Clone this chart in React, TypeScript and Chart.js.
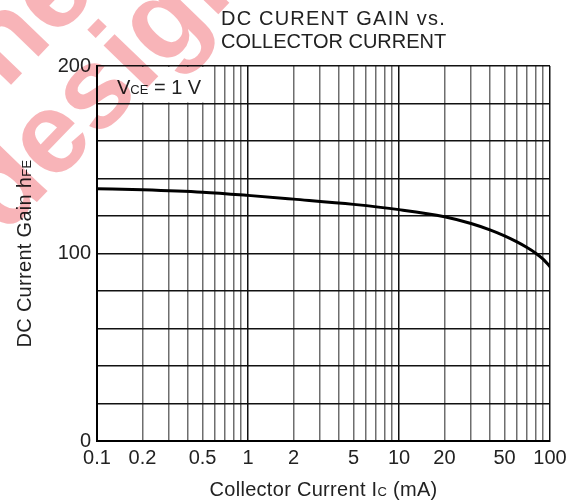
import { useEffect, useRef } from "react";
import { Chart, registerables } from "chart.js";

Chart.register(...registerables);

// ---- data ----
const CURRENT_MA = [0.1, 0.2, 0.5, 1, 2, 5, 10, 20, 30, 40, 50, 60, 70, 80, 90, 100];
const GAIN_HFE = [134.6, 134.0, 132.7, 131.0, 129.0, 126.2, 123.4, 119.6, 116.0, 112.6, 109.4, 106.3, 103.3, 100.3, 97.0, 93.0];
const X_GRID = [
  0.1, 0.2, 0.3, 0.4, 0.5, 0.6, 0.7, 0.8, 0.9,
  1, 2, 3, 4, 5, 6, 7, 8, 9,
  10, 20, 30, 40, 50, 60, 70, 80, 90, 100,
];
const X_MAJOR = [0.1, 1, 10, 100];
const X_LABELS = [0.1, 0.2, 0.5, 1, 2, 5, 10, 20, 50, 100];
const Y_LABELS = [0, 100, 200];
const TITLE_LINES = ["DC CURENT GAIN vs.", "COLLECTOR CURRENT"];

const FONT = '"Liberation Sans", Arial, sans-serif';
const TEXT = "#222";

type Part = [string, number];

function partsWidth(ctx: CanvasRenderingContext2D, parts: Part[], spacing: number) {
  let w = 0;
  for (const [t, s] of parts) {
    ctx.font = `${s}px ${FONT}`;
    (ctx as any).letterSpacing = `${spacing}px`;
    w += ctx.measureText(t).width;
  }
  return w;
}

function drawParts(ctx: CanvasRenderingContext2D, parts: Part[], x: number, y: number, spacing = 0) {
  let cx = x;
  ctx.textAlign = "left";
  ctx.textBaseline = "alphabetic";
  for (const [t, s] of parts) {
    ctx.font = `${s}px ${FONT}`;
    (ctx as any).letterSpacing = `${spacing}px`;
    ctx.fillText(t, cx, y);
    cx += ctx.measureText(t).width;
  }
}

const textPlugin = {
  id: "customText",
  beforeDraw(chart: any) {
    const ctx = chart.ctx as CanvasRenderingContext2D;
    ctx.save();
    ctx.fillStyle = "#fff";
    ctx.fillRect(0, 0, chart.width, chart.height);
    ctx.restore();
  },
  beforeDatasetsDraw(chart: any) {
    const ctx = chart.ctx as CanvasRenderingContext2D;
    const { chartArea } = chart;
    const xs = chart.scales.x;
    const ys = chart.scales.y;
    ctx.save();
    // clear grid behind the condition label
    ctx.fillStyle = "#fff";
    const l = chartArea.left + 1;
    const t = chartArea.top + 1;
    const r = xs.getPixelForValue(0.55);
    const b = ys.getPixelForValue(180) - 1;
    ctx.fillRect(l, t, r - l, b - t);
    ctx.fillStyle = TEXT;
    drawParts(ctx, [["V", 20], ["CE", 13], [" = 1 V", 20]], 117, 94);
    ctx.restore();
  },
  afterDraw(chart: any) {
    const ctx = chart.ctx as CanvasRenderingContext2D;
    const { chartArea } = chart;
    ctx.save();
    ctx.fillStyle = TEXT;
    // title
    drawParts(ctx, [[TITLE_LINES[0], 20]], 221, 25, 1.2);
    drawParts(ctx, [[TITLE_LINES[1], 20]], 221, 48, 0);
    // x axis title
    const xParts: Part[] = [["Collector Current I", 20], ["C", 13], [" (mA)", 20]];
    const xw = partsWidth(ctx, xParts, 0.3);
    drawParts(ctx, xParts, (chartArea.left + chartArea.right) / 2 - xw / 2, 496, 0.3);
    // y axis title
    const yParts: Part[] = [["DC Current Gain h", 20], ["FE", 13]];
    const yw = partsWidth(ctx, yParts, 0.3);
    ctx.translate(31, (chartArea.top + chartArea.bottom) / 2);
    ctx.rotate(-Math.PI / 2);
    drawParts(ctx, yParts, -yw / 2, 0, 0.3);
    ctx.restore();

    // watermark (kept behind the ink via multiply)
    ctx.save();
    ctx.globalCompositeOperation = "multiply";
    ctx.fillStyle = "rgb(248,180,184)";
    ctx.font = `bold 115px ${FONT}`;
    (ctx as any).letterSpacing = "0px";
    ctx.translate(4, 236);
    ctx.rotate((-46 * Math.PI) / 180);
    ctx.textAlign = "left";
    ctx.fillText("design", 0, 0);
    ctx.textAlign = "right";
    ctx.fillText("ne", 240, -100);
    ctx.restore();
  },
};

export default function App() {
  const ref = useRef<HTMLCanvasElement | null>(null);

  useEffect(() => {
    if (!ref.current) return;
    const chart = new Chart(ref.current, {
      type: "line",
      data: {
        datasets: [
          {
            data: CURRENT_MA.map((x, i) => ({ x, y: GAIN_HFE[i] })),
            borderColor: "#000",
            borderWidth: 3,
            pointRadius: 0,
            fill: false,
            cubicInterpolationMode: "monotone",
            borderCapStyle: "round",
          },
        ],
      },
      options: {
        animation: false,
        responsive: false,
        maintainAspectRatio: false,
        layout: { padding: { top: 66, right: 34, left: 0, bottom: 0 } },
        plugins: {
          legend: { display: false },
          tooltip: { enabled: false },
          title: { display: false },
        },
        scales: {
          x: {
            type: "logarithmic",
            min: 0.1,
            max: 100,
            afterBuildTicks: (s: any) => {
              s.ticks = X_GRID.map((v) => ({ value: v, major: X_MAJOR.includes(v) }));
            },
            afterFit: (s: any) => {
              s.height = 63;
            },
            grid: {
              color: (c: any) => (X_MAJOR.includes(c.tick?.value) ? "#111" : "#6e6e6e"),
              lineWidth: 1.5,
              drawTicks: false,
            },
            border: { display: true, color: "#000", width: 2 },
            ticks: {
              autoSkip: false,
              maxRotation: 0,
              minRotation: 0,
              padding: 5,
              color: TEXT,
              font: { family: FONT, size: 20 },
              callback: (v: any) => (X_LABELS.includes(Number(v)) ? String(v) : ""),
            },
          },
          y: {
            type: "linear",
            min: 0,
            max: 200,
            afterFit: (s: any) => {
              s.width = 97;
            },
            grid: { color: "#111", lineWidth: 1.5, drawTicks: false },
            border: { display: true, color: "#000", width: 2 },
            ticks: {
              stepSize: 20,
              padding: 6,
              color: TEXT,
              font: { family: FONT, size: 20 },
              callback: (v: any) => (Y_LABELS.includes(Number(v)) ? String(v) : ""),
            },
          },
        },
      },
      plugins: [textPlugin],
    } as any);
    return () => chart.destroy();
  }, []);

  return (
    <div style={{ position: "absolute", left: 0, top: 0, width: 584, height: 504 }}>
      <canvas ref={ref} width={584} height={504} style={{ display: "block" }} />
    </div>
  );
}
